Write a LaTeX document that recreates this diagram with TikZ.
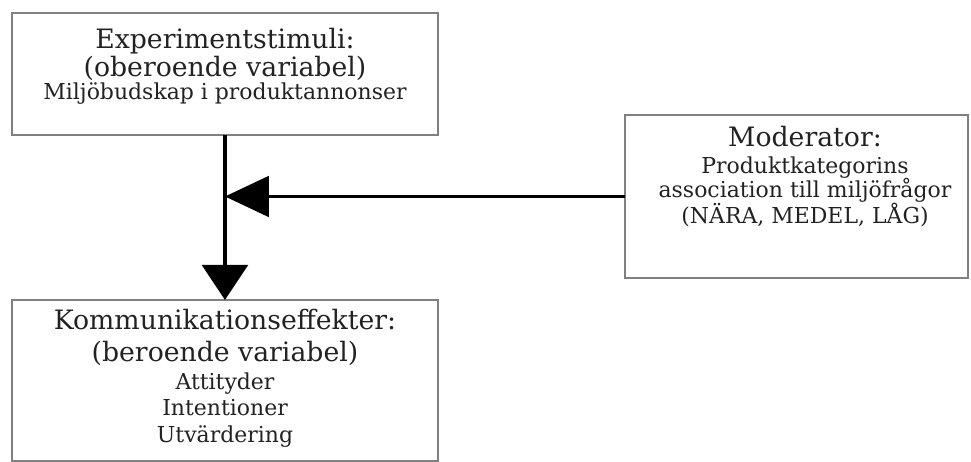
\documentclass[tikz,border=0pt]{standalone}
\usepackage{fontspec}
\setmainfont{DejaVu Serif}
\usepackage{xcolor}
\usetikzlibrary{arrows.meta}
\definecolor{boxgray}{HTML}{808080}
\definecolor{ink}{HTML}{222222}
\tikzset{
  box/.style={draw=boxgray,line width=1.1pt,anchor=north west,inner sep=0pt,outer sep=0pt},
  big/.style={font=\fontsize{15.2}{17}\selectfont,text=ink,anchor=base,inner sep=0pt},
  sml/.style={font=\fontsize{12.5}{14}\selectfont,text=ink,anchor=base,inner sep=0pt},
  flow/.style={line width=2.2pt},
  tipdown/.style={-{Triangle[length=20pt,width=26pt]}},
  tipleft/.style={-{Triangle[length=25pt,width=23pt]}}
}

\begin{document}
\begin{tikzpicture}[x=0.02cm,y=-0.02cm]
\useasboundingbox (0,0) rectangle (971,462);
% boxes
\node[box,minimum width=8.52cm,minimum height=2.44cm] (stim) at (12,13) {};
\node[box,minimum width=8.52cm,minimum height=3.22cm] (eff) at (12,300) {};
\node[box,minimum width=6.86cm,minimum height=3.26cm] (mod) at (625,115) {};
% texts
\node[big] (stim1) at (225,49) {Experimentstimuli:};
\node[big] (stim2) at (225,77) {(oberoende variabel)};
\node[sml] (stim3) at (225,100) {Miljöbudskap i produktannonser};
\node[big] (mod1) at (805,147) {Moderator:};
\node[sml] (mod2) at (805,174) {Produktkategorins};
\node[sml] (mod3) at (805,198) {association till miljöfrågor};
\node[sml] (mod4) at (805,224) {(NÄRA, MEDEL, LÅG)};
\node[big] (eff1) at (225,330) {Kommunikationseffekter:};
\node[big] (eff2) at (225,362) {(beroende variabel)};
\node[sml] (eff3) at (225,390) {Attityder};
\node[sml] (eff4) at (225,416) {Intentioner};
\node[sml] (eff5) at (225,443) {Utvärdering};
% arrows
\coordinate (join) at (stim.south |- mod.west);
\draw[flow,tipdown] (stim.south) -- (eff.north);
\draw[flow,tipleft] (mod.west) -- (join);
\end{tikzpicture}
\end{document}
